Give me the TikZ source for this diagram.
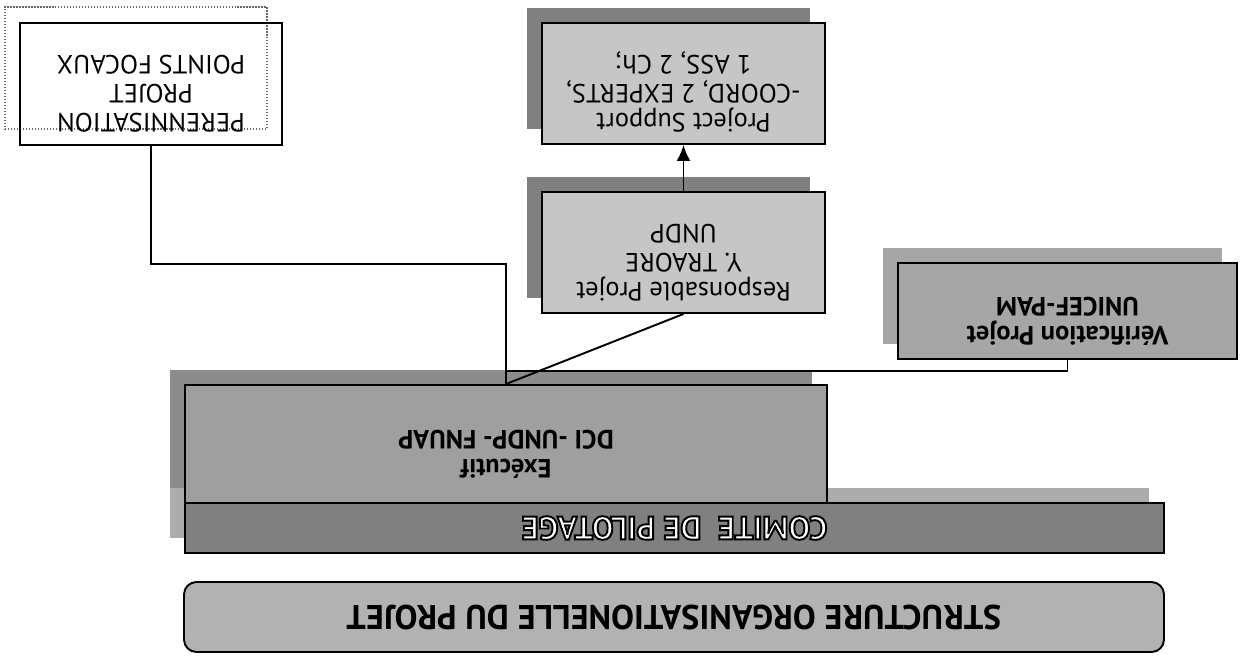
\documentclass[tikz,border=0pt]{standalone}
\usepackage{fontspec}
\setmainfont{PT Sans}
\usetikzlibrary{positioning, arrows.meta, shadows}

% lettres blanches cernees de noir
\newcommand{\lettrecreuse}[1]{{\color{white}\special{pdf:literal direct 2 Tr 1.1 w 0 G}#1\special{pdf:literal direct 0 Tr}}}

\begin{document}
\begin{tikzpicture}[rotate=180, transform shape, >={Latex[length=3.2mm,width=2.8mm]},
    boite/.style={draw, line width=1.1pt, align=center, inner sep=0pt, text depth=0.4cm, font=\fontsize{15}{16.5}\selectfont},
    shad/.style={drop shadow={shadow xshift=-0.3cm, shadow yshift=0.3cm, opacity=1, fill=#1}},
    wire/.style={line width=1.1pt}]

    \useasboundingbox (0,0) rectangle (24.8,13.16);

    % ================= titre =================
    \node[draw, line width=1.1pt, rounded corners=0.25cm, fill=gray!60, minimum width=19.6cm, minimum height=1.4cm,
          font=\bfseries\fontsize{19.5}{21}\selectfont] (titre) at (11.32,12.34) {STRUCTURE ORGANISATIONELLE DU PROJET};

    % ================= comite et executif =================
    \node[draw, line width=1.1pt, shad=gray!65, fill=gray, minimum width=19.58cm, minimum height=1cm,
          font=\bfseries\fontsize{18.5}{20}\selectfont] (comite) at (11.31,10.56) {\lettrecreuse{COMITE\ \ DE PILOTAGE}};
    \node[boite, shad=gray!90, fill=gray!75, minimum width=12.84cm, minimum height=2.36cm,
          font=\bfseries\fontsize{15}{16.5}\selectfont] (exec) at (14.68,8.88) {Exécutif\\DCI -UNDP- FNUAP};

    % ================= boites du bas =================
    \node[boite, shad=gray!70, fill=gray!70, minimum width=6.78cm, minimum height=1.92cm,
          font=\bfseries\fontsize{15}{16.5}\selectfont] (verif) at (3.45,6.22) {Vérification Projet\\UNICEF-PAM};
    \node[boite, shad=gray, fill=gray!45, minimum width=5.66cm, minimum height=2.42cm] (resp) at (11.13,5.05) {Responsable Projet\\Y. TRAORE\\UNDP};
    \node[boite, shad=gray, fill=gray!45, minimum width=5.66cm, minimum height=2.42cm] (supp) at (11.13,1.67) {Project Support\\-COORD, 2 EXPERTS,\\1 ASS, 2 Ch;};
    \node[boite, minimum width=5.24cm, minimum height=2.44cm,
          drop shadow={shadow xshift=-0.3cm, shadow yshift=0.32cm, opacity=1, fill=none, draw=black!60, densely dotted, line width=0.7pt}] (perenn) at (21.78,1.68) {PERENNISATION\\PROJET\\POINTS FOCAUX};

    % ================= liaisons =================
    \draw[wire] (perenn.north) |- ([yshift=-2.4cm]exec.south) -- (exec.south);
    \draw[wire] (verif.north) |- ([yshift=-0.26cm]exec.south);
    \draw[wire] (resp.north) -- (exec.south);
    \draw[wire, ->] (resp.south) -- (supp.north);

\end{tikzpicture}
\end{document}
